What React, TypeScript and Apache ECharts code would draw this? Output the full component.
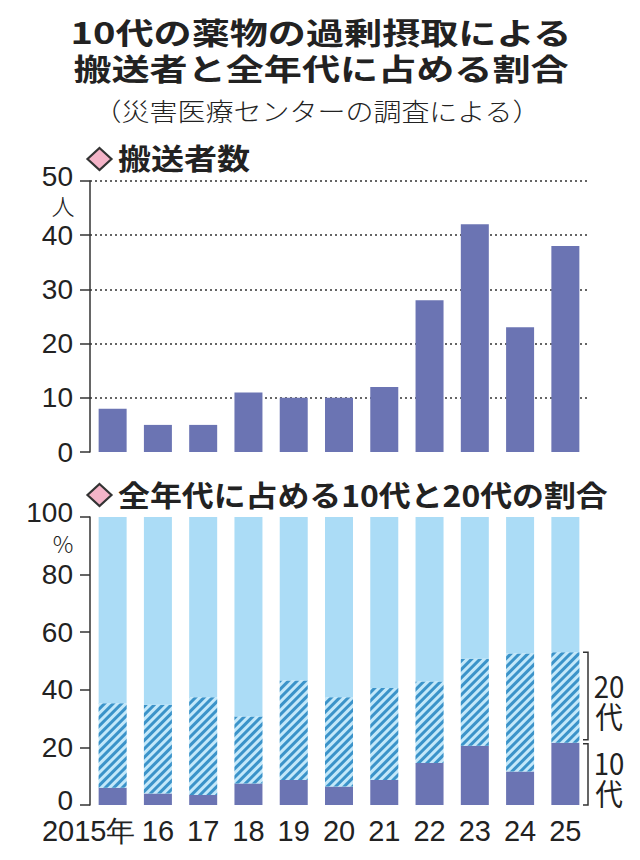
import React, { useEffect, useRef } from 'react';
import * as echarts from 'echarts';

// 年（横軸）
const years = ['2015年', '16', '17', '18', '19', '20', '21', '22', '23', '24', '25'];
// 10代の搬送者数（人）
const transported = [8, 5, 5, 11, 10, 10, 12, 28, 42, 23, 38];
// 全年代に占める割合（%）
const teens = [6.0, 4.0, 3.5, 7.5, 8.7, 6.4, 8.7, 14.6, 20.6, 11.6, 21.6];
const twenties = [29.3, 30.8, 33.9, 23.2, 34.5, 31.0, 31.9, 28.3, 30.2, 41.0, 31.4];

const DARK = '#6b74b3';
const LIGHT = '#abdcf6';
const HATCH_BG = '#c3e8fa';
const HATCH_FG = '#3b93c9';
const INK = '#222';
const JP = "'Noto Sans CJK JP', sans-serif";
const NUM = "'Liberation Sans', sans-serif";

const others = teens.map((t, i) => +(100 - t - twenties[i]).toFixed(1));

function diamond(cx: number, cy: number) {
  return {
    type: 'polygon',
    shape: {
      points: [
        [cx, cy - 11],
        [cx + 12, cy],
        [cx, cy + 11],
        [cx - 12, cy],
      ],
    },
    style: { fill: '#f4b4c8', stroke: '#333', lineWidth: 2.2 },
  };
}

function text(t: string, x: number, y: number, size: number, scaleX: number, opts: any = {}) {
  return {
    type: 'text',
    x,
    y,
    scaleX,
    style: {
      text: t,
      fontSize: size,
      fontFamily: opts.family ?? JP,
      fontWeight: opts.weight ?? 'bold',
      fill: INK,
      align: opts.align ?? 'center',
      verticalAlign: 'middle',
      lineHeight: opts.lineHeight,
    },
  };
}

// raise selected tick labels a little, as in the original print
function yLabel(raise: number[]) {
  return {
    fontFamily: NUM,
    fontSize: 28,
    color: INK,
    margin: 17,
    formatter: (v: number) => (raise.includes(v) ? `{up|${v}}` : `${v}`),
    rich: { up: { fontFamily: NUM, fontSize: 28, color: INK, padding: [0, 0, 10, 0] } },
  };
}

const yAxisBase = {
  type: 'value',
  min: 0,
  axisLine: { show: true, lineStyle: { color: '#333', width: 1.5 } },
  axisTick: { show: true, length: 10, lineStyle: { color: '#333', width: 1.5 } },
};

export default function App() {
  const ref = useRef<HTMLDivElement>(null);

  useEffect(() => {
    document.body.style.margin = '0';
    if (!ref.current) return;
    const chart = echarts.init(ref.current, null, { renderer: 'svg' });

    chart.setOption({
      animation: false,
      grid: [
        { left: 90, top: 181, width: 498, height: 271 },
        { left: 90, top: 517, width: 498, height: 288 },
      ],
      xAxis: [
        {
          type: 'category',
          gridIndex: 0,
          data: years,
          axisLine: { show: false },
          axisTick: { show: false },
          axisLabel: { show: false },
        },
        {
          type: 'category',
          gridIndex: 1,
          data: years,
          axisLine: { show: false },
          axisTick: { show: false },
          axisLabel: {
            interval: 0,
            fontFamily: NUM,
            fontSize: 29,
            color: INK,
            margin: 11,
            formatter: (v: string, i: number) => (i === 0 ? `{first|${v}}` : v),
            rich: {
              first: { fontFamily: NUM, fontSize: 29, color: INK, padding: [0, 48, 0, 0] },
            },
          },
        },
      ],
      yAxis: [
        {
          ...yAxisBase,
          gridIndex: 0,
          max: 50,
          interval: 10,
          axisLabel: yLabel([50]),
          splitLine: {
            show: true,
            showMinLine: false,
            lineStyle: { color: '#333', width: 1.5, type: [2, 3] },
          },
        },
        {
          ...yAxisBase,
          gridIndex: 1,
          max: 100,
          interval: 20,
          axisLabel: yLabel([0, 100]),
          splitLine: { show: false },
        },
      ],
      series: [
        {
          type: 'bar',
          xAxisIndex: 0,
          yAxisIndex: 0,
          data: transported,
          barWidth: 28,
          itemStyle: { color: DARK },
        },
        {
          name: '10代',
          type: 'bar',
          stack: 'share',
          xAxisIndex: 1,
          yAxisIndex: 1,
          data: teens,
          barWidth: 28,
          itemStyle: { color: DARK },
        },
        {
          name: '20代',
          type: 'bar',
          stack: 'share',
          xAxisIndex: 1,
          yAxisIndex: 1,
          data: twenties,
          barWidth: 28,
          itemStyle: {
            color: HATCH_BG,
            decal: {
              symbol: 'rect',
              symbolSize: 1,
              dashArrayX: [1, 0],
              dashArrayY: [3, 3],
              rotation: -Math.PI / 4,
              color: HATCH_FG,
            },
          },
        },
        {
          name: 'その他',
          type: 'bar',
          stack: 'share',
          xAxisIndex: 1,
          yAxisIndex: 1,
          data: others,
          barWidth: 28,
          itemStyle: { color: LIGHT },
        },
      ],
    });

    const py = (v: number) => chart.convertToPixel({ yAxisIndex: 1 }, v) as number;
    const last = years.length - 1;
    const yTotal = py(teens[last] + twenties[last]);
    const yTeen = py(teens[last]);
    const yZero = py(0);
    const bx = 588;
    const bracket = (y1: number, y2: number) => ({
      type: 'polyline',
      shape: { points: [[bx - 5, y1], [bx, y1], [bx, y2], [bx - 5, y2]] },
      style: { stroke: '#333', lineWidth: 1.5, fill: null },
    });

    chart.setOption({
      graphic: [
        text('10代の薬物の過剰摂取による', 321, 31, 30, 1.27),
        text('搬送者と全年代に占める割合', 321, 67, 30, 1.27),
        text('（災害医療センターの調査による）', 317, 110, 25, 1.12, { weight: 300 }),
        diamond(99.5, 159),
        text('搬送者数', 118, 157, 29, 1.14, { align: 'left' }),
        diamond(99.5, 495),
        text('全年代に占める10代と20代の割合', 118, 495, 29, 1.1, { align: 'left' }),
        text('人', 63, 205, 23, 1, { weight: 300 }),
        text('%', 63, 543, 23, 1, { weight: 300 }),
        bracket(yTotal, yTeen - 3),
        bracket(yTeen + 1, yZero),
        text('20\n代', 609, (yTotal + yTeen) / 2 + 2, 30, 0.92, { weight: 'normal', lineHeight: 30 }),
        text('10\n代', 609, (yTeen + yZero) / 2 + 3, 30, 0.92, { weight: 'normal', lineHeight: 30 }),
      ],
    });

    return () => chart.dispose();
  }, []);

  return <div ref={ref} style={{ width: 640, height: 860 }} />;
}
